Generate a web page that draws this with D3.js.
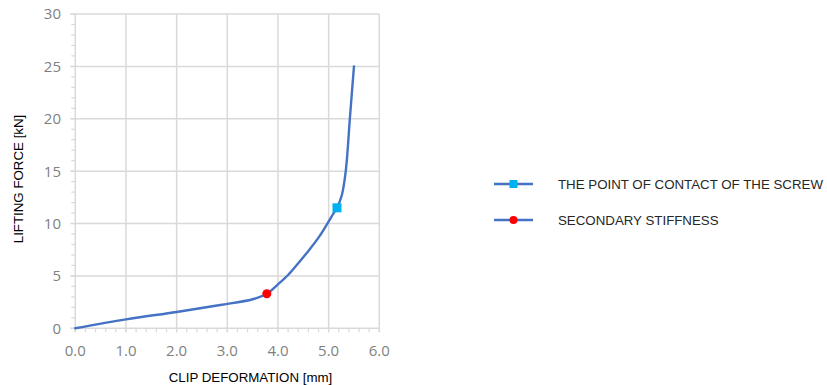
<!DOCTYPE html>
<html>
<head>
<meta charset="utf-8">
<script src="https://cdn.jsdelivr.net/npm/d3@7"></script>
<style>
  html, body { margin: 0; padding: 0; background: #fff; }
  svg { display: block; }
</style>
</head>
<body>
<svg id="chart" width="827" height="385"></svg>
<script>
// Load–deformation curve of the clip
const deformation = [0, 1.0, 2.0, 2.86, 3.5, 3.78, 4.0, 4.2, 4.4, 4.6, 4.8, 4.96, 5.09, 5.165, 5.26, 5.34, 5.42, 5.50];
const force       = [0, 0.85, 1.56, 2.22, 2.77, 3.30, 4.20, 5.09, 6.21, 7.38, 8.65, 9.87, 10.92, 11.50, 12.7, 15.1, 20.1, 25.0];

// Highlighted points on the curve
const contactPoint   = { x: 5.165, y: 11.50 };
const secondaryPoint = { x: 3.78, y: 3.30 };

const xTicks = [0, 1, 2, 3, 4, 5, 6];
const yTicks = [0, 5, 10, 15, 20, 25, 30];

const seriesNames = ["THE POINT OF CONTACT OF THE SCREW", "SECONDARY STIFFNESS"];

const svg = d3.select("#chart");
const x = d3.scaleLinear().domain([0, 6]).range([75.3, 379.3]);
const y = d3.scaleLinear().domain([0, 30]).range([328.3, 14]);

const gridColor = "#d9d9d9";
const lineColor = "#4472c4";

// Gridlines (vertical and horizontal)
svg.append("g").selectAll("line").data(xTicks).join("line")
  .attr("x1", d => x(d)).attr("x2", d => x(d))
  .attr("y1", y(30)).attr("y2", y(0) + 4)
  .attr("stroke", gridColor).attr("stroke-width", 1.5);
svg.append("g").selectAll("line").data(yTicks).join("line")
  .attr("x1", x(0) - 5).attr("x2", x(6))
  .attr("y1", d => y(d)).attr("y2", d => y(d))
  .attr("stroke", gridColor).attr("stroke-width", 1.5);

// Minor ticks
const xMinor = d3.range(0, 6.001, 0.2);
svg.append("g").selectAll("line").data(xMinor).join("line")
  .attr("x1", d => x(d)).attr("x2", d => x(d))
  .attr("y1", y(0)).attr("y2", y(0) + 4)
  .attr("stroke", gridColor).attr("stroke-width", 1.2);
const yMinor = d3.range(0, 30.001, 1);
svg.append("g").selectAll("line").data(yMinor).join("line")
  .attr("x1", x(0) - 4).attr("x2", x(0))
  .attr("y1", d => y(d)).attr("y2", d => y(d))
  .attr("stroke", gridColor).attr("stroke-width", 1.2);

// Tick labels
const tickFont = "'Open Sans', sans-serif";
svg.append("g").selectAll("text").data(xTicks).join("text")
  .attr("x", d => x(d)).attr("y", 355.5)
  .attr("text-anchor", "middle")
  .attr("font-family", tickFont).attr("font-size", 15)
  .attr("fill", "#7f7f7f")
  .text(d => d3.format(".1f")(d));
svg.append("g").selectAll("text").data(yTicks).join("text")
  .attr("x", 61).attr("y", d => y(d))
  .attr("dy", "0.36em")
  .attr("text-anchor", "end")
  .attr("font-family", tickFont).attr("font-size", 15)
  .attr("fill", "#7f7f7f")
  .text(d => d);

// Axis titles
const titleFont = "'Liberation Sans', Arial, sans-serif";
svg.append("text")
  .attr("x", 250.5).attr("y", 381.5)
  .attr("text-anchor", "middle")
  .attr("font-family", titleFont).attr("font-size", 13.3)
  .attr("fill", "#000")
  .text("CLIP DEFORMATION [mm]");
svg.append("text")
  .attr("transform", "translate(22.5,179) rotate(-90)")
  .attr("text-anchor", "middle")
  .attr("font-family", titleFont).attr("font-size", 13.3)
  .attr("fill", "#000")
  .text("LIFTING FORCE [kN]");

// Curve
const pts = deformation.map((d, i) => [d, force[i]]);
const line = d3.line().x(d => x(d[0])).y(d => y(d[1])).curve(d3.curveCatmullRom.alpha(0.5));
svg.append("path")
  .datum(pts)
  .attr("d", line)
  .attr("fill", "none")
  .attr("stroke", lineColor)
  .attr("stroke-width", 2.4)
  .attr("stroke-linejoin", "round")
  .attr("stroke-linecap", "round");

// Markers
svg.append("rect")
  .attr("x", x(contactPoint.x) - 4.5).attr("y", y(contactPoint.y) - 4.5)
  .attr("width", 9).attr("height", 9)
  .attr("fill", "#00b0f0");
svg.append("circle")
  .attr("cx", x(secondaryPoint.x)).attr("cy", y(secondaryPoint.y))
  .attr("r", 4.5)
  .attr("fill", "#ff0000");

// Legend
const legendRows = [184, 220];
const lg = svg.append("g");
seriesNames.forEach((name, i) => {
  const yy = legendRows[i];
  lg.append("line")
    .attr("x1", 494).attr("x2", 533)
    .attr("y1", yy).attr("y2", yy)
    .attr("stroke", lineColor).attr("stroke-width", 2.4);
  if (i === 0) {
    lg.append("rect").attr("x", 513.5 - 4).attr("y", yy - 4)
      .attr("width", 8).attr("height", 8).attr("fill", "#00b0f0");
  } else {
    lg.append("circle").attr("cx", 513.5).attr("cy", yy).attr("r", 4)
      .attr("fill", "#ff0000");
  }
  lg.append("text")
    .attr("x", 558).attr("y", yy).attr("dy", "0.36em")
    .attr("font-family", titleFont).attr("font-size", 13.3)
    .attr("fill", "#262626")
    .text(name);
});
</script>
</body>
</html>
